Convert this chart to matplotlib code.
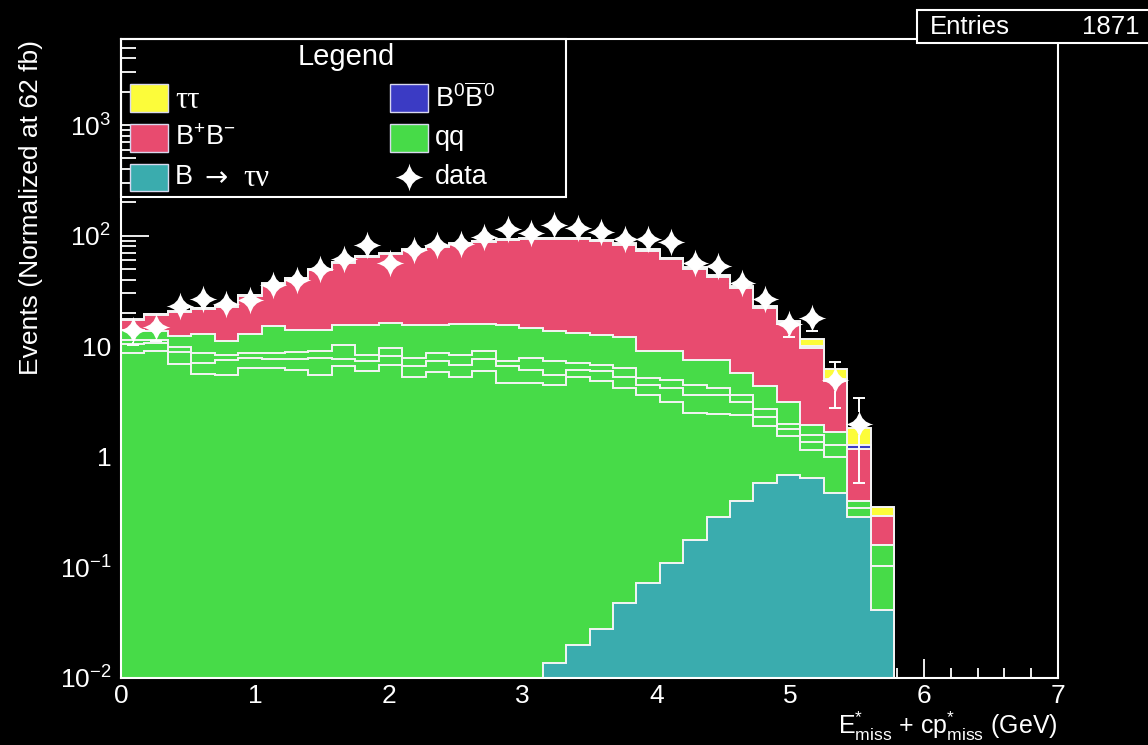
import numpy as np
import matplotlib
matplotlib.use("Agg")
import matplotlib.pyplot as plt
from matplotlib.path import Path
from matplotlib.patches import Rectangle
from matplotlib.ticker import FixedLocator, FixedFormatter, LogLocator, NullFormatter, MultipleLocator

plt.rcParams["font.family"] = ["Liberation Sans", "DejaVu Sans"]
plt.rcParams["mathtext.fontset"] = "custom"
plt.rcParams["mathtext.rm"] = "Liberation Sans"
plt.rcParams["mathtext.it"] = "Liberation Sans"
plt.rcParams["mathtext.bf"] = "Liberation Sans:bold"

# ---------------------------------------------------------------- data
bin_width = 0.175          # GeV, 40 bins over 0-7 GeV; only the first 33 are filled
n_bins = 33

btaunu = [0, 0, 0, 0, 0, 0, 0, 0, 0, 0, 0, 0, 0, 0, 0, 0, 0, 0,
          0.0138, 0.0198, 0.0276, 0.0477, 0.0728, 0.110, 0.178, 0.288,
          0.40, 0.575, 0.684, 0.65, 0.471, 0.284, 0.0416]
qq_1 = [8.7, 9.0, 6.9, 5.6, 5.5, 6.4, 6.3, 6.1, 5.5, 6.6, 6.0, 6.7, 5.3, 5.9,
        5.3, 6.0, 4.65, 4.65, 4.49, 5.28, 4.87, 4.15, 3.53, 2.99, 2.32, 2.16,
        2.0, 1.33, 0.87, 0.51, 0.53, 0.061, 0.062]
qq_2 = [1.8, 1.7, 2.0, 1.5, 2.0, 1.45, 1.4, 1.5, 2.35, 1.0, 1.3, 1.4, 1.3, 1.5,
        1.5, 1.6, 1.95, 1.45, 1.0, 0.8, 1.06, 1.1, 0.9, 1.1, 1.1, 1.15,
        0.7, 0.4, 0.23, 0.21, 0.0, 0.0, 0.0]
qq_3 = [0.8, 0.8, 1.0, 1.6, 0.8, 0.85, 1.0, 1.3, 1.15, 2.6, 1.1, 1.6, 1.25, 1.3,
        1.45, 1.5, 0.7, 1.7, 1.8, 1.0, 0.84, 1.1, 0.7, 0.7, 0.9, 0.6,
        0.5, 0.4, 0.19, 0.2, 0.28, 0.051, 0.056]
qq_4 = [2.8, 2.3, 2.4, 4.2, 2.8, 4.2, 6.4, 5.2, 5.1, 5.3, 7.1, 6.5, 7.65, 6.8,
        7.65, 6.8, 8.2, 6.8, 6.3, 6.1, 5.9, 5.6, 3.8, 4.1, 3.0, 3.3,
        2.1, 1.7, 1.13, 0.37, 0.41, 0.0, 0.0]
bp_bm = [3.1, 5.4, 8.0, 8.8, 11.5, 15.6, 21.3, 26.7, 35.1, 41.6, 48.5, 51.7,
         58.3, 64.2, 67.8, 71.7, 76.0, 78.7, 79.6, 80.9, 76.3, 71.0, 64.0,
         52.3, 42.5, 35.0, 28.0, 17.6, 12.9, 7.6, 3.15, 0.79, 0.13]
b0_b0bar = [0.2, 0.2, 0.25, 0.25, 0.3, 0.35, 0.45, 0.5, 0.6, 0.7, 0.8, 0.85,
            0.9, 1.0, 1.0, 1.1, 1.2, 1.3, 1.4, 1.5, 1.6, 1.6, 1.5, 1.3, 1.1,
            1.0, 0.8, 0.55, 0.45, 0.55, 0.2, 0.08, 0.0]
tautau = [0.1, 0.1, 0.1, 0.1, 0.1, 0.15, 0.15, 0.2, 0.2, 0.2, 0.25, 0.25, 0.3,
          0.3, 0.3, 0.35, 0.35, 0.4, 0.4, 0.4, 0.45, 0.45, 0.45, 0.45, 0.45,
          0.5, 0.5, 0.5, 0.6, 1.5, 1.13, 0.57, 0.06]
data = [14, 15, 23, 27, 24, 26, 36, 40, 50, 62, 83, 56, 74, 82, 84, 98, 115,
        105, 125, 117, 108, 94, 94, 87, 56, 53, 37, 27, 16, 18, 5, 2]

x_ticks = [0, 1, 2, 3, 4, 5, 6, 7]
y_ticks = [1e-2, 1e-1, 1, 10, 1e2, 1e3]
y_tick_labels = [r"$10^{-2}$", r"$10^{-1}$", "1", "10", r"$10^{2}$", r"$10^{3}$"]

# ---------------------------------------------------------------- style
W, H = 1148, 745
col_tautau = "#fcfc3a"
col_bpbm = "#e84b6f"
col_b0 = "#3b3bc4"
col_qq = "#47db48"
col_btaunu = "#3aacae"
edge = "#f4f4f4"
star_size = 20            # marker size in points
y_min, y_max = 1e-2, 6000
ax_h_px = 639

edges = np.arange(n_bins + 1) * bin_width
centers = edges[:-1] + bin_width / 2

fig = plt.figure(figsize=(W / 100, H / 100), dpi=100, facecolor="black")
ax = fig.add_axes([121 / W, 67 / H, 937 / W, ax_h_px / H])
ax.set_facecolor("black")
ax.set_axisbelow(True)


def px(x, y):
    """Pixel position (from the top-left corner) to figure fraction."""
    return x / W, 1 - y / H


# stacked histogram, drawn from the top of the stack downwards
layers = [btaunu, qq_1, qq_2, qq_3, qq_4, bp_bm, b0_b0bar, tautau]
colors = [col_btaunu, col_qq, col_qq, col_qq, col_qq, col_bpbm, col_b0, col_tautau]
cum = np.cumsum(np.array(layers, dtype=float), axis=0)
floor = 1e-6
for i in reversed(range(len(layers))):
    top = np.where(cum[i] > 0, cum[i], floor)
    ax.stairs(top, edges, baseline=floor, fill=True, facecolor=colors[i],
              edgecolor=edge, linewidth=1.4, zorder=1)

# four-pointed star marker for the data
w = 0.15
star_path = Path(
    [(0, 1), (w, w), (1, 0), (w, -w), (0, -1), (-w, -w), (-1, 0), (-w, w), (0, 1), (0, 1)],
    [Path.MOVETO] + [Path.CURVE3] * 8 + [Path.CLOSEPOLY],
)

# Poisson error bars, drawn only where they reach beyond the marker
data_arr = np.array(data, dtype=float)
xc = centers[: len(data_arr)]
err = np.sqrt(data_arr)
decades_per_px = np.log10(y_max / y_min) / ax_h_px
half_marker = (star_size / 2) * (100 / 72) * decades_per_px * 0.85
hi_end = data_arr + err
lo_end = data_arr - err
hi_start = data_arr * 10 ** half_marker
lo_start = data_arr / 10 ** half_marker
up = hi_end > hi_start
dn = (lo_end > 0) & (lo_end < lo_start)
ax.vlines(xc[up], hi_start[up], hi_end[up], color="white", lw=1.4, zorder=3)
ax.vlines(xc[dn], lo_end[dn], lo_start[dn], color="white", lw=1.4, zorder=3)
ax.plot(xc[up], hi_end[up], ls="none", marker="_", ms=8, mew=1.4, color="white", zorder=3)
ax.plot(xc[dn], lo_end[dn], ls="none", marker="_", ms=8, mew=1.4, color="white", zorder=3)
ax.plot(xc, data_arr, ls="none", marker=star_path, markersize=star_size,
        color="white", markeredgewidth=0, zorder=4)

# axes
ax.set_yscale("log")
ax.set_xlim(0, 7)
ax.set_ylim(y_min, y_max)
for s in ax.spines.values():
    s.set_color("white")
    s.set_linewidth(1.5)
    s.set_zorder(5)

ax.yaxis.set_major_locator(FixedLocator(y_ticks))
ax.yaxis.set_major_formatter(FixedFormatter(y_tick_labels))
ax.yaxis.set_minor_locator(LogLocator(base=10, subs=np.arange(2, 10)))
ax.yaxis.set_minor_formatter(NullFormatter())
ax.xaxis.set_major_locator(FixedLocator(x_ticks))
ax.xaxis.set_major_formatter(FixedFormatter([str(t) for t in x_ticks]))
ax.xaxis.set_minor_locator(MultipleLocator(0.2))

ax.tick_params(axis="both", which="both", direction="in", colors="white",
               labelcolor="white", labelsize=19, width=1.3,
               top=False, right=False)
ax.tick_params(axis="y", which="major", length=20, pad=7)
ax.tick_params(axis="y", which="minor", length=10.5)
ax.tick_params(axis="x", which="major", length=14, pad=4)
ax.tick_params(axis="x", which="minor", length=7)

# axis titles
fig.text(*px(31, 40), "Events (Normalized at 62 fb)", rotation=90,
         ha="center", va="top", color="white", fontsize=19)
fig.text(*px(1058, 734),
         r"$\mathrm{E}^{*}_{\mathrm{miss}}$ + $\mathrm{cp}^{*}_{\mathrm{miss}}$ (GeV)",
         ha="right", va="baseline", color="white", fontsize=18)

# legend box
lx0, ly0, lx1, ly1 = 121, 39, 566, 197
fx0, fy1 = px(lx0, ly0)
fx1, fy0 = px(lx1, ly1)
fig.add_artist(Rectangle((fx0, fy0), fx1 - fx0, fy1 - fy0, transform=fig.transFigure,
                         facecolor="none", edgecolor="white", linewidth=1.5, zorder=2))
fig.text(*px(346, 57), "Legend", ha="center", va="center", color="white", fontsize=21)

rows = [98, 138, 177]
sw_h = 27


def swatch(x0, x1, yc, color):
    a, b = px(x0, yc + sw_h / 2)
    c, d = px(x1, yc - sw_h / 2)
    fig.add_artist(Rectangle((a, b), c - a, d - b, transform=fig.transFigure,
                             facecolor=color, edgecolor="#d8d8ee", linewidth=1.0, zorder=3))


swatch(130, 168, rows[0], col_tautau)
swatch(130, 168, rows[1], col_bpbm)
swatch(130, 168, rows[2], col_btaunu)
swatch(390, 428, rows[0], col_b0)
swatch(390, 428, rows[1], col_qq)

lab_kw = dict(ha="left", va="center", color="white", fontsize=19.5)
fig.text(*px(175, rows[0] + 2), "ττ", family="Liberation Serif",
         ha="left", va="center", color="white", fontsize=22)
fig.text(*px(175, rows[1]), r"B$^{+}$B$^{-}$", **lab_kw)
fig.text(*px(175, rows[2]), "B", **lab_kw)
fig.text(*px(204, rows[2] + 1), "→", family="DejaVu Sans",
         ha="left", va="center", color="white", fontsize=20)
fig.text(*px(243, rows[2] + 2), "τν", family="Liberation Serif",
         ha="left", va="center", color="white", fontsize=22)
fig.text(*px(435, rows[0]), r"B$^{0}\overline{\mathrm{B}}^{0}$", **lab_kw)
fig.text(*px(435, rows[1]), "qq", **lab_kw)
fig.text(*px(435, rows[2]), "data", **lab_kw)
star_pos = px(409, rows[2])
fig.add_artist(plt.Line2D([star_pos[0]], [star_pos[1]], transform=fig.transFigure,
                          ls="none", marker=star_path, markersize=star_size, color="white",
                          markeredgewidth=0, zorder=4))

# statistics box
bx0, by1 = px(917, 10)
bx1, by0 = px(1160, 43)
fig.add_artist(Rectangle((bx0, by0), bx1 - bx0, by1 - by0, transform=fig.transFigure,
                         facecolor="black", edgecolor="white", linewidth=1.5, zorder=2,
                         clip_on=False))
fig.text(*px(930, 27), "Entries", ha="left", va="center", color="white", fontsize=18.5)
fig.text(*px(1140, 27), "1871", ha="right", va="center", color="white", fontsize=18.5)

fig.savefig("out.png", dpi=100, facecolor="black")
